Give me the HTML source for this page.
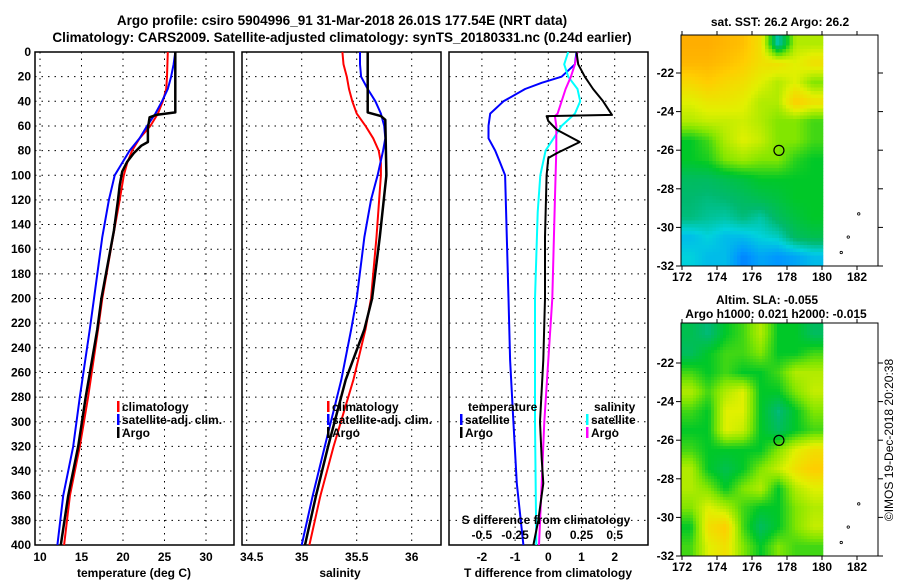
<!DOCTYPE html>
<html><head><meta charset="utf-8"><style>
html,body{margin:0;padding:0;background:#fff;}
svg{display:block;font-family:"Liberation Sans",sans-serif;font-weight:bold;}
</style></head><body>
<svg id="fig" width="900" height="580" viewBox="0 0 900 580" xmlns="http://www.w3.org/2000/svg">
<text x="342" y="25" font-size="13.5" text-anchor="middle">Argo profile: csiro 5904996_91 31-Mar-2018 26.01S 177.54E (NRT data)</text>
<text x="342" y="42" font-size="13.5" text-anchor="middle">Climatology: CARS2009. Satellite-adjusted climatology: synTS_20180331.nc (0.24d earlier)</text>
<g id="g"></g>
</svg>
<script>
// ---- data ----
const tDepth = [0,10,20,30,40,50,60,70,80,90,100,120,150,200,225,280,320,360,400];
const tSat   = [26.3,26.1,25.8,25.4,24.7,23.9,22.9,22.0,20.8,19.9,19.0,18.3,17.5,16.5,16.0,14.8,14.0,12.8,12.1];
const tClimDepth = [0,20,30,40,50,60,70,80,90,100,120,150,200,225,280,320,360,400];
const tClim  = [25.4,25.3,25.2,24.8,24.2,23.3,22.0,21.1,20.5,20.1,19.6,18.8,17.5,17.0,15.8,14.8,13.6,12.9];
const tArgoDepth = [0,49,51,53,62,73,76,82,89,97,108,120,145,200,225,280,320,360,400];
const tArgo  = [26.3,26.3,24.0,23.2,23.0,23.0,22.2,21.3,20.5,19.9,19.6,19.4,18.9,17.4,16.9,15.5,14.6,13.4,12.5];

const sSatDepth = [0,10,20,30,40,50,60,70,80,100,120,150,200,225,266,320,360,400];
const sSat = [35.53,35.53,35.54,35.6,35.67,35.72,35.75,35.76,35.74,35.69,35.63,35.57,35.5,35.45,35.36,35.21,35.1,35.0];
const sClimDepth = [0,10,20,30,40,50,60,70,80,90,100,150,200,225,266,320,360,400];
const sClim = [35.37,35.38,35.41,35.43,35.46,35.5,35.58,35.65,35.7,35.72,35.72,35.68,35.63,35.58,35.47,35.29,35.17,35.07];
const sArgoDepth = [0,49,52,55,100,150,200,225,266,320,360,400];
const sArgo = [35.6,35.6,35.72,35.76,35.77,35.71,35.64,35.57,35.4,35.24,35.13,35.03];

const dtSatDepth = [0,10,20,25,30,40,50,60,70,80,90,100,150,200,250,300,350,400];
const dtSat = [0.85,0.8,0.4,-0.2,-0.7,-1.35,-1.75,-1.8,-1.8,-1.6,-1.45,-1.3,-1.25,-1.2,-1.15,-1.05,-0.95,-0.75];
const dtArgoDepth = [0,10,20,30,40,51,52,56,63,73,82,86,100,150,200,250,300,330,350,380,400];
const dtArgo = [0.85,0.9,1.1,1.35,1.65,1.92,-0.05,0,0.25,0.95,0.26,0,-0.05,-0.1,-0.1,-0.15,-0.25,-0.2,-0.15,-0.3,-0.45];
const dsSatDepth = [0,10,20,30,40,50,60,70,80,100,130,200,300,400];
const dsSat = [0.15,0.12,0.15,0.22,0.24,0.2,0.1,0.04,-0.02,-0.06,-0.08,-0.1,-0.1,-0.09];
const dsArgoDepth = [0,10,20,30,40,50,52,60,80,120,200,250,300,350,400];
const dsArgo = [0.22,0.2,0.17,0.13,0.1,0.07,0.05,0.06,0.06,0.05,0.03,0.0,-0.03,-0.05,-0.07];

const depthTicks = [0,20,40,60,80,100,120,140,160,180,200,220,240,260,280,300,320,340,360,380,400];
const tempTicks = [10,15,20,25,30];
const salTicks = [34.5,35,35.5,36];
const salTickLabels = ["34.5","35","35.5","36"];
const dtTicks = [-2,-1,0,1,2];
const dsTicks = [-0.5,-0.25,0,0.25,0.5];
const dsTickLabels = ["-0.5","-0.25","0","0.25","0.5"];
const latTicks = [-22,-24,-26,-28,-30,-32];
const lonTicks = [172,174,176,178,180,182];

// coarse map grids (rows lat -20.5..-31.5, cols lon 172.5..179.5), colour index 0..1
const sstGrid = [
[0.82,0.82,0.8,0.78,0.7,0.3,0.6,0.6],
[0.8,0.8,0.78,0.75,0.7,0.7,0.65,0.7],
[0.72,0.75,0.72,0.7,0.65,0.6,0.65,0.55],
[0.65,0.68,0.68,0.66,0.6,0.6,0.75,0.7],
[0.6,0.62,0.62,0.63,0.6,0.55,0.55,0.5],
[0.45,0.5,0.6,0.65,0.62,0.55,0.55,0.5],
[0.45,0.47,0.55,0.58,0.55,0.55,0.48,0.45],
[0.38,0.38,0.4,0.42,0.45,0.45,0.45,0.45],
[0.36,0.35,0.36,0.38,0.4,0.42,0.45,0.45],
[0.35,0.33,0.32,0.35,0.32,0.38,0.42,0.45],
[0.25,0.28,0.25,0.25,0.28,0.3,0.38,0.4],
[0.28,0.25,0.25,0.18,0.22,0.2,0.22,0.25]];
const slaGrid = [
[0.4,0.35,0.45,0.5,0.6,0.45,0.45,0.38],
[0.38,0.45,0.5,0.5,0.55,0.45,0.45,0.5],
[0.5,0.45,0.5,0.45,0.45,0.5,0.6,0.6],
[0.6,0.5,0.6,0.65,0.45,0.45,0.55,0.62],
[0.5,0.45,0.65,0.65,0.45,0.35,0.45,0.55],
[0.45,0.45,0.65,0.62,0.45,0.38,0.45,0.5],
[0.5,0.45,0.45,0.45,0.45,0.55,0.65,0.7],
[0.6,0.45,0.4,0.45,0.55,0.62,0.7,0.75],
[0.6,0.55,0.45,0.55,0.6,0.45,0.6,0.65],
[0.55,0.65,0.6,0.5,0.45,0.45,0.55,0.6],
[0.45,0.7,0.75,0.5,0.38,0.45,0.55,0.62],
[0.5,0.65,0.7,0.55,0.45,0.55,0.5,0.5]];
const floatLon = 177.54, floatLat = -26.01;

// ---- helpers ----
const NS="http://www.w3.org/2000/svg";
const G=document.getElementById('g');
function el(tag,attrs,parent,txt){const e=document.createElementNS(NS,tag);for(const k in attrs)e.setAttribute(k,attrs[k]);if(txt!==undefined)e.textContent=txt;(parent||G).appendChild(e);return e;}
const yD=d=>52+d*1.2325;
const P1={x0:35,x1:234}, P2={x0:242,x1:441}, P3={x0:449,x1:648};
const xT=t=>40+(t-10)*8.3;
const xS=s=>301.7+(s-35)*110;
const xDT=v=>548.3+v*33.2;
const xDS=v=>548.3+v*132.8;

function panel(P,name,vx,xf){
  const g=el('g',{},G);
  
  
  vx.forEach(v=>{const x=xf(v); if(x>P.x0+1&&x<P.x1-1){const l=el('line',{x1:x,x2:x,y1:52,y2:545,stroke:'#000','stroke-width':1,'stroke-dasharray':'1.5,5'},g);}});
  depthTicks.forEach(d=>{if(d>0&&d<400){const l=el('line',{x1:P.x0,x2:P.x1,y1:yD(d),y2:yD(d),stroke:'#000','stroke-width':1,'stroke-dasharray':'1.5,5'},g);}});
  const r=el('rect',{x:P.x0,y:52,width:P.x1-P.x0,height:493,fill:'none',stroke:'#000','stroke-width':1.5},g);
  
  return g;
}
function line(g,name,xs,ds,xf,color,w){
  const pts=xs.map((v,i)=>xf(v).toFixed(1)+','+yD(ds[i]).toFixed(1)).join(' ');
  const p=el('polyline',{points:pts,fill:'none',stroke:color,'stroke-width':w,'stroke-linejoin':'round'},g);
  
}
function legend(g,x,y,items){
  items.forEach((it,i)=>{
    const b=el('rect',{x:x,y:y+i*13-10,width:2.5,height:11,fill:it[1]},g);
    
    const t=el('text',{x:x+5,y:y+i*13,'font-size':12},g,it[0]);
    
  });
}
function txt(x,y,s,size,anchor,name,parent){const t=el('text',{x:x,y:y,'font-size':size,'text-anchor':anchor||'middle'},parent||G,s);return t;}

// depth axis labels
depthTicks.forEach(d=>{txt(31,yD(d)+4,String(d),12,'end','y-tick-label');});

// panel 1 temperature
const g1=panel(P1,'temperature-panel',tempTicks,xT);
line(g1,'temp-climatology',tClim,tClimDepth,xT,'#f00',2);
line(g1,'temp-satellite-adj',tSat,tDepth,xT,'#00f',2);
line(g1,'temp-argo',tArgo,tArgoDepth,xT,'#000',2.5);
legend(g1,117,411,[['climatology','#f00'],['satellite-adj. clim.','#00f'],['Argo','#000']]);
tempTicks.forEach(v=>txt(xT(v),561,String(v),12,'middle','x-tick-label'));
txt(134,577,'temperature (deg C)',12,'middle','x-axis-title');

// panel 2 salinity
const g2=panel(P2,'salinity-panel',salTicks,xS);
line(g2,'sal-climatology',sClim,sClimDepth,xS,'#f00',2);
line(g2,'sal-satellite-adj',sSat,sSatDepth,xS,'#00f',2);
line(g2,'sal-argo',sArgo,sArgoDepth,xS,'#000',2.5);
legend(g2,327,411,[['climatology','#f00'],['satellite-adj. clim.','#00f'],['Argo','#000']]);
salTicks.forEach((v,i)=>txt(xS(v)+(i==0?5:0),561,salTickLabels[i],12,'middle','x-tick-label'));
txt(340,577,'salinity',12,'middle','x-axis-title');

// panel 3 differences
const g3=panel(P3,'difference-panel',dtTicks,xDT);
line(g3,'dT-satellite',dtSat,dtSatDepth,xDT,'#00f',2);
line(g3,'dS-satellite',dsSat,dsSatDepth,xDS,'#0ff',2);
line(g3,'dS-argo',dsArgo,dsArgoDepth,xDS,'#f0f',2);
line(g3,'dT-argo',dtArgo,dtArgoDepth,xDT,'#000',2);
txt(468,411,'temperature',12,'start','legend-title',g3);
txt(594,411,'salinity',12,'start','legend-title',g3);
legend(g3,460,424,[['satellite','#00f'],['Argo','#000']]);
legend(g3,586,424,[['satellite','#0ff'],['Argo','#f0f']]);
txt(546,524,'S difference from climatology',12,'middle','s-axis-title',g3);
dsTicks.forEach((v,i)=>txt(xDS(v),539,dsTickLabels[i],12,'middle','s-tick-label',g3));
dtTicks.forEach(v=>txt(xDT(v),561,String(v),12,'middle','x-tick-label'));
txt(548,577,'T difference from climatology',12,'middle','x-axis-title');

// ---- maps ----
const stops=[[0.1,[0,60,255]],[0.2,[0,150,255]],[0.28,[0,210,220]],[0.36,[0,185,110]],[0.45,[0,200,40]],[0.55,[130,230,0]],[0.65,[225,240,0]],[0.75,[255,205,0]],[0.85,[255,160,0]],[0.95,[200,50,0]]];
function cmap(v){if(v<=stops[0][0])return 'rgb('+stops[0][1]+')';for(let i=1;i<stops.length;i++){if(v<=stops[i][0]){const a=stops[i-1],b=stops[i],f=(v-a[0])/(b[0]-a[0]);return 'rgb('+a[1].map((c,k)=>Math.round(c+(b[1][k]-c)*f)).join(',')+')';}}return 'rgb('+stops[stops.length-1][1]+')';}
function sample(grid,lon,lat){
  let c=lon-172.5, r=-20.5-lat;
  c=Math.max(0,Math.min(7,c)); r=Math.max(0,Math.min(11,r));
  const c0=Math.min(6,Math.floor(c)), r0=Math.min(10,Math.floor(r)), fc=c-c0, fr=r-r0;
  return grid[r0][c0]*(1-fc)*(1-fr)+grid[r0][c0+1]*fc*(1-fr)+grid[r0+1][c0]*(1-fc)*fr+grid[r0+1][c0+1]*fc*fr;
}
function map(name,top,lat22y,grid,cell,title){
  const g=el('g',{},G);
  
  
  const lx=lon=>682+(lon-172)*17.5, ly=lat=>lat22y+(-22-lat)*19.3;
  const bottom=ly(-32);
  for(let y=top;y<bottom;y+=cell){for(let x=681;x<823;x+=cell){
    const lon=172+(x+cell/2-682)/17.5, lat=-22-(y+cell/2-lat22y)/19.3;
    const r=el('rect',{x:x,y:y,width:Math.min(cell,823-x)+0.3,height:Math.min(cell,bottom-y)+0.3,fill:cmap(sample(grid,lon,lat))},g);
    
  }}
  const f=el('rect',{x:681,y:top,width:197,height:bottom-top,fill:'none',stroke:'#000','stroke-width':1},g);
  
  latTicks.forEach(l=>{el('line',{x1:878,x2:883,y1:ly(l),y2:ly(l),stroke:'#000'},g);el('line',{x1:676,x2:681,y1:ly(l),y2:ly(l),stroke:'#000'},g);txt(674,ly(l)+4,String(l),12,'end','lat-tick-label',g);});
  lonTicks.forEach(l=>{el('line',{x1:lx(l),x2:lx(l),y1:top-4,y2:top,stroke:'#000'},g);el('line',{x1:lx(l),x2:lx(l),y1:bottom,y2:bottom+4,stroke:'#000'},g);txt(lx(l),bottom+15,String(l),12,'middle','lon-tick-label',g);});
  const c=el('circle',{cx:lx(floatLon),cy:ly(floatLat),r:5,fill:'none',stroke:'#000','stroke-width':1.2},g);
  
  [[182.1,-29.3],[181.5,-30.5],[181.1,-31.3]].forEach(p=>{el('circle',{cx:lx(p[0]),cy:ly(p[1]),r:1.2,fill:'none',stroke:'#000','stroke-width':0.8},g);});
}
map('sst-map',35,73,sstGrid,3.5);
txt(780,26,'sat. SST: 26.2 Argo: 26.2',12,'middle','sst-map-title');
map('sla-map',323,363,slaGrid,3);
txt(767,304,'Altim. SLA: -0.055',12,'middle','sla-map-title');
txt(776,318,'Argo h1000: 0.021 h2000: -0.015',12,'middle','sla-map-subtitle');
const cr=txt(0,0,'©IMOS 19-Dec-2018 20:20:38',12,'middle','copyright-stamp');
cr.setAttribute('font-weight','normal');
cr.setAttribute('transform','translate(893,440) rotate(-90)');
</script>
</body></html>
